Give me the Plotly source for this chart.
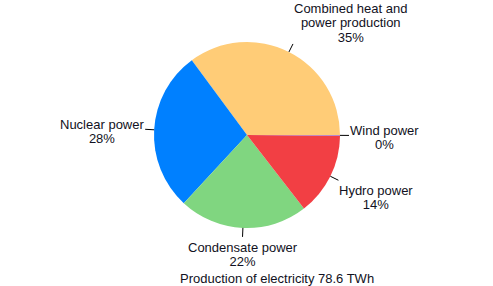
import math
import plotly.graph_objects as go

labels = ["Combined heat and<br>power production", "Nuclear power", "Condensate power", "Hydro power", "Wind power"]
values_twh = [27.6, 22.0, 17.6, 11.3, 0.1]
colors = ["#FFCC77", "#0080FF", "#80D680", "#F23F44", "#9A6FD0"]
title_text = "Production of electricity 78.6 TWh"

W, H = 493, 286
cx, cy, R = 247, 135, 93
tick_len = 9
txt_px = 13

total = sum(values_twh)

fig = go.Figure(go.Pie(
    labels=labels, values=values_twh, sort=False, direction="counterclockwise",
    rotation=90 - 360 * values_twh[0] / total,
    marker=dict(colors=colors, line=dict(width=0)),
    textinfo="none", hoverinfo="label+percent", showlegend=False,
    domain=dict(x=[(cx - R) / W, (cx + R) / W], y=[1 - (cy + R) / H, 1 - (cy - R) / H]),
))

def styled(t):
    return "<br>".join(f'<span style="font-size:{txt_px}px">{p}</span>' for p in t.split("<br>"))

cum = 0.0
annotations = []
shapes = []
for lab, v in zip(labels, values_twh):
    mid = (cum + v / 2) / total * 2 * math.pi
    cum += v
    c, s = math.cos(mid), math.sin(mid)
    x0, y0 = cx + R * c, cy - R * s
    x1, y1 = cx + (R + tick_len) * c, cy - (R + tick_len) * s
    shapes.append(dict(type="line", xref="paper", yref="paper",
                       x0=x0 / W, y0=1 - y0 / H, x1=x1 / W, y1=1 - y1 / H,
                       line=dict(color="black", width=1)))
    xa = "left" if c > 0.3 else ("right" if c < -0.3 else "center")
    ya = "bottom" if s > 0.3 else ("top" if s < -0.3 else "middle")
    pct = round(v / total * 100)
    annotations.append(dict(xref="paper", yref="paper", x=x1 / W, y=1 - y1 / H,
                            xanchor=xa, yanchor=ya, align="center", showarrow=False,
                            borderpad=0, font=dict(size=11), yshift=-2,
                            text=styled(f"{lab}<br>{pct}%")))

annotations.append(dict(xref="paper", yref="paper", x=277 / W, y=1 - 278 / H,
                        xanchor="center", yanchor="middle", showarrow=False,
                        font=dict(size=txt_px), text=title_text))

fig.update_layout(
    width=W, height=H, margin=dict(l=0, r=0, t=0, b=0),
    paper_bgcolor="white", plot_bgcolor="white",
    font=dict(family="Liberation Sans, Arial, sans-serif", size=txt_px, color="#111122"),
    annotations=annotations, shapes=shapes,
)
fig.write_html("out.html", config={"displayModeBar": False})
